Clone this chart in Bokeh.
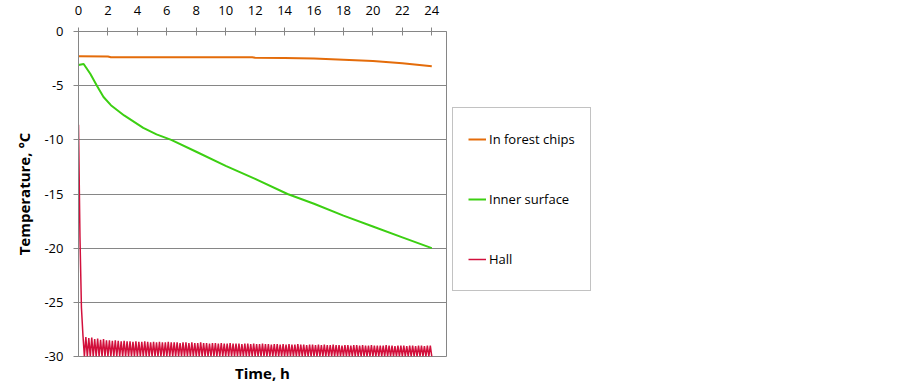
from bokeh.plotting import figure
from bokeh.models import Range1d, LinearAxis, FixedTicker, Legend, LegendItem
from bokeh.embed import file_html
from bokeh.resources import INLINE

# ---------------- data ----------------
x_ticks = [0, 2, 4, 6, 8, 10, 12, 14, 16, 18, 20, 22, 24]
y_ticks = [-30, -25, -20, -15, -10, -5, 0]
y_tick_labels = ["-30", "-25", "-20", "-15", "-10", "-5", "0"]

chips_t = [0.0, 2.0, 2.2, 11.8, 12.0, 14.0, 16.0, 18.0, 20.0, 22.0, 24.0]
chips_temp = [-2.28, -2.30, -2.37, -2.38, -2.43, -2.45, -2.50, -2.60, -2.72, -2.92, -3.20]

surface_t = [0.0, 0.35, 0.8, 1.27, 1.7, 2.2, 3.1, 4.4, 5.3, 6.3, 8.0, 10.0, 12.0,
             14.2, 16.0, 18.0, 20.0, 22.0, 24.0]
surface_temp = [-3.1, -3.0, -3.9, -5.05, -6.05, -6.8, -7.75, -8.9, -9.5, -10.0, -11.1,
                -12.4, -13.6, -15.0, -15.9, -17.0, -18.0, -19.0, -20.0]

# Hall: initial drop, sampled every 0.1 h
hall_start = [-8.6, -19.0, -25.5, -28.0, -30.0]
hall_trough = -30.0
# peak values of the on/off oscillation, one every 0.2 h from t = 0.5 h
hall_peaks = [
    -28.2, -28.3, -28.25, -28.4, -28.35, -28.45, -28.4, -28.5, -28.5, -28.55,
    -28.5, -28.55, -28.6, -28.55, -28.6, -28.6, -28.65, -28.6, -28.65, -28.65,
    -28.6, -28.65, -28.7, -28.65, -28.7, -28.65, -28.7, -28.7, -28.65, -28.7,
    -28.7, -28.7, -28.75, -28.7, -28.7, -28.75, -28.7, -28.75, -28.75, -28.7,
    -28.75, -28.75, -28.8, -28.75, -28.75, -28.8, -28.75, -28.8, -28.8, -28.75,
    -28.8, -28.8, -28.8, -28.85, -28.8, -28.8, -28.85, -28.8, -28.85, -28.85,
    -28.8, -28.85, -28.85, -28.9, -28.85, -28.85, -28.9, -28.85, -28.9, -28.85,
    -28.9, -28.9, -28.85, -28.9, -28.9, -28.95, -28.9, -28.9, -28.95, -28.9,
    -28.95, -28.9, -28.95, -28.95, -28.9, -28.95, -28.95, -29.0, -28.95, -28.95,
    -29.0, -28.95, -28.95, -29.0, -28.95, -29.0, -29.0, -28.95, -29.0, -29.0,
    -29.0, -29.0, -28.95, -29.0, -29.0, -29.05, -29.0, -29.0, -29.0, -29.05,
    -29.0, -29.0, -29.05, -29.0, -29.0, -29.05, -29.0, -29.0,
]
hall_step = 0.1

hall_temp = list(hall_start)
for pk in hall_peaks:
    hall_temp.append(pk)
    hall_temp.append(hall_trough)
hall_t = [round(i * hall_step, 2) for i in range(len(hall_temp))]

# ---------------- figure ----------------
FONT = "Open Sans"
GRAY = "#868686"

p = figure(frame_width=368, frame_height=325,
           x_range=Range1d(0, 25), y_range=Range1d(-30, 0),
           x_axis_location="above",
           output_backend="svg", toolbar_location=None,
           min_border_left=78, min_border_top=31, min_border_bottom=0,
           min_border_right=0, background_fill_color="white",
           border_fill_color="white")

p.outline_line_color = GRAY
p.outline_line_width = 1
p.xgrid.visible = False
p.ygrid.ticker = FixedTicker(ticks=y_ticks)
p.ygrid.grid_line_color = GRAY
p.ygrid.grid_line_width = 1

# top x axis
xa = p.xaxis[0]
xa.ticker = FixedTicker(ticks=x_ticks)
xa.major_tick_in = 4
xa.major_tick_out = 4
xa.minor_tick_in = 0
xa.minor_tick_out = 0
xa.major_tick_line_color = GRAY
xa.axis_line_color = GRAY
xa.major_label_standoff = 13
xa.major_label_text_font = FONT
xa.major_label_text_font_size = "13px"
xa.major_label_text_color = "black"

# left y axis
ya = p.yaxis[0]
ya.ticker = FixedTicker(ticks=y_ticks)
ya.major_label_overrides = {t: s for t, s in zip(y_ticks, y_tick_labels)}
ya.major_tick_in = 0
ya.major_tick_out = 5
ya.minor_tick_in = 0
ya.minor_tick_out = 0
ya.major_tick_line_color = GRAY
ya.axis_line_color = GRAY
ya.major_label_standoff = 10
ya.major_label_text_font = FONT
ya.major_label_text_font_size = "13px"
ya.major_label_text_color = "black"
ya.axis_label = "Temperature, °C"
ya.axis_label_text_font = FONT
ya.axis_label_text_font_size = "15px"
ya.axis_label_text_font_style = "bold"
ya.axis_label_text_color = "black"
ya.axis_label_standoff = 7

# bottom axis used only for the title "Time, h"
xb = LinearAxis(ticker=FixedTicker(ticks=[]), axis_line_color=None,
                major_tick_in=0, major_tick_out=0, minor_tick_in=0, minor_tick_out=0,
                major_label_text_font_size="0px",
                axis_label="Time, h", axis_label_text_font=FONT,
                axis_label_text_font_size="15px", axis_label_text_font_style="bold",
                axis_label_text_color="black", axis_label_standoff=6)
p.add_layout(xb, "below")

# series
r_chips = p.line(chips_t, chips_temp, line_color="#E46C0A", line_width=2)
r_surf = p.line(surface_t, surface_temp, line_color="#3CCF12", line_width=2)
r_hall = p.line(hall_t, hall_temp, line_color="#D2103C", line_width=1.5)

legend = Legend(items=[LegendItem(label="In forest chips", renderers=[r_chips]),
                       LegendItem(label="Inner surface", renderers=[r_surf]),
                       LegendItem(label="Hall", renderers=[r_hall])],
                location=(6, 65), margin=6, padding=15, spacing=28,
                label_height=32, glyph_height=32, glyph_width=18, label_standoff=3,
                border_line_color=GRAY, border_line_width=1,
                background_fill_color="white", background_fill_alpha=1.0,
                label_text_font=FONT, label_text_font_size="13px",
                label_text_color="black")
p.add_layout(legend, "right")

open("out.html", "w").write(file_html(p, INLINE))
